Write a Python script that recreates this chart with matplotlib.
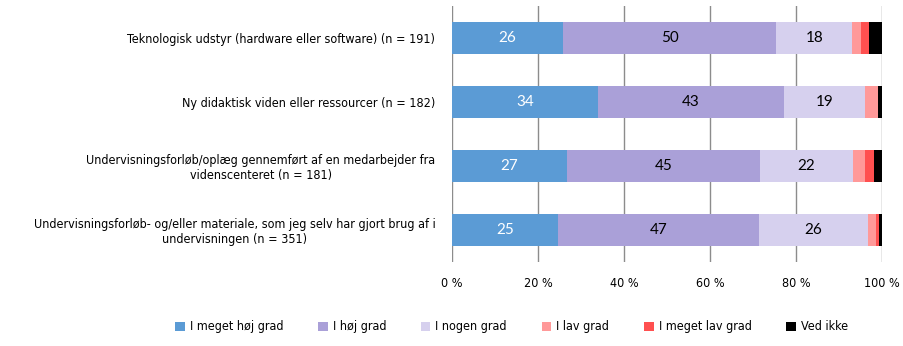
import numpy as np
import matplotlib.pyplot as plt
from matplotlib.patches import Patch

plt.rcParams['font.family'] = ['DejaVu Sans']
plt.rcParams['font.stretch'] = 'condensed'

# categories (top to bottom)
categories = [
    "Teknologisk udstyr (hardware eller software) (n = 191)",
    "Ny didaktisk viden eller ressourcer (n = 182)",
    "Undervisningsforløb/oplæg gennemført af en medarbejder fra\nvidenscenteret (n = 181)",
    "Undervisningsforløb- og/eller materiale, som jeg selv har gjort brug af i\nundervisningen (n = 351)",
]
series = ["I meget høj grad", "I høj grad", "I nogen grad", "I lav grad", "I meget lav grad", "Ved ikke"]
colors = ["#5B9BD5", "#AAA0D8", "#D6D0EE", "#FF9999", "#FF5050", "#000000"]
label_colors = ["white", "black", "black"]

meget_hoj = [25.8, 33.9, 26.8, 24.7]
hoj = [49.6, 43.2, 44.8, 46.6]
nogen = [17.7, 19.0, 21.6, 25.5]
lav = [2.1, 3.0, 2.9, 1.8]
meget_lav = [1.8, 0.0, 2.0, 0.8]
ved_ikke = [3.0, 0.9, 1.9, 0.6]
values = [meget_hoj, hoj, nogen, lav, meget_lav, ved_ikke]

fs = 9

fig = plt.figure(figsize=(9.04, 3.46), dpi=100)
ax = fig.add_axes([0.5, 0.243, 0.4757, 0.74])

y = np.arange(len(categories))
left = np.zeros(len(categories))
for i, (vals, col) in enumerate(zip(values, colors)):
    vals = np.array(vals)
    ax.barh(y, vals, left=left, height=0.5, color=col, zorder=3)
    # value labels only on the three big segments
    if i < 3:
        for yy, l, v in zip(y, left, vals):
            ax.text(l + v / 2, yy, f"{round(v):d}", ha="center", va="center",
                    fontsize=11, color=label_colors[i], family="Lato", stretch="normal", zorder=4)
    left += vals

ax.set_xlim(0, 100)
ax.set_ylim(3.5, -0.5)
ax.set_xticks(np.arange(0, 101, 20))
ax.set_xticklabels([f"{t} %" for t in range(0, 101, 20)], fontsize=fs)
ax.set_yticks(y)
ax.set_yticklabels(categories, fontsize=fs, multialignment="center")
ax.tick_params(axis="x", length=0, pad=11)
ax.tick_params(axis="y", length=0, pad=12)
ax.grid(axis="x", color="#8C8C8C", linewidth=1, zorder=0)
for s in ax.spines.values():
    s.set_visible(False)

handles = [Patch(facecolor=c, label=s) for s, c in zip(series, colors)]
fig.legend(handles=handles, loc="center", bbox_to_anchor=(0.566, 0.055), ncol=6,
           frameon=False, fontsize=fs, handlelength=0.75, handleheight=0.75,
           handletextpad=0.4, columnspacing=2.8)

fig.savefig("out.png", dpi=100)
